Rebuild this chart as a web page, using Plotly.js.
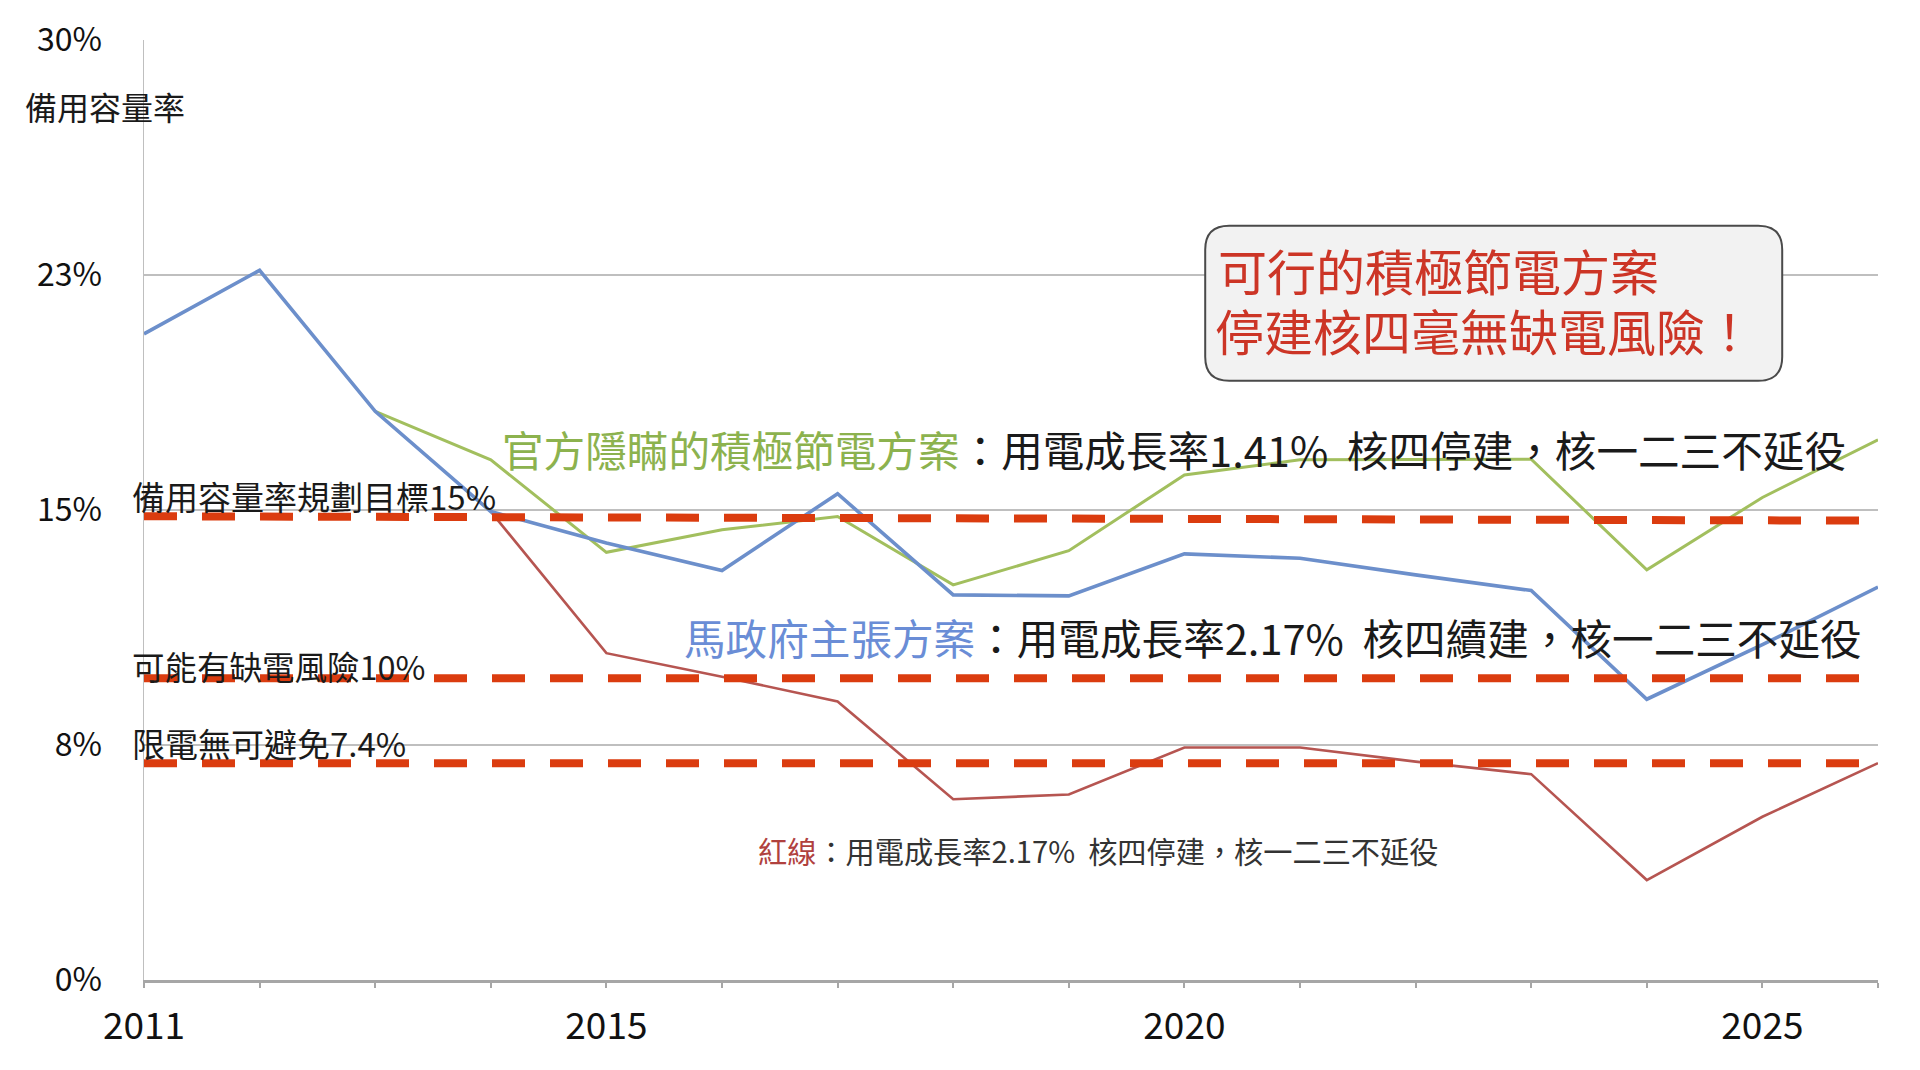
<!DOCTYPE html>
<html>
<head>
<meta charset="utf-8">
<script src="https://cdn.plot.ly/plotly-3.0.1.min.js"></script>
<style>
html, body { margin: 0; padding: 0; background: #ffffff; }
#chart { width: 1920px; height: 1070px; }
</style>
</head>
<body>
<div id="chart"></div>
<script>
// ---- data ----
const years = [2011, 2012, 2013, 2014, 2015, 2016, 2017, 2018, 2019, 2020, 2021, 2022, 2023, 2024, 2025, 2026];
// 馬政府主張方案 (blue)
const maGovPlan = [20.62, 22.65, 18.15, 14.95, 13.95, 13.07, 15.52, 12.29, 12.26, 13.60, 13.46, 12.93, 12.43, 8.96, 10.70, 12.54];
// 官方隱瞞的積極節電方案 (green)
const hiddenSavingPlan = [null, null, 18.15, 16.60, 13.65, 14.37, 14.79, 12.61, 13.70, 16.12, 16.60, 16.62, 16.62, 13.09, 15.40, 17.24];
// 紅線 (red)
const redLinePlan = [null, null, null, 14.95, 10.43, 9.68, 8.89, 5.77, 5.92, 7.42, 7.42, 6.97, 6.57, 3.19, 5.21, 6.92];

// reference (dashed) lines as drawn in the picture
const refLineYears = [2011, 2026];
const targetLine15 = [14.80, 14.66];
const riskLine10 = [9.63, 9.63];
const rationLine74 = [6.92, 6.92];

// axis ticks
const yTickVals = [0, 7.5, 15, 22.5, 30];
const yTickText = ['0%', '8%', '15%', '23%', '30%'];
const xLabelYears = [2011, 2015, 2020, 2025];
const xTickText = years.map(y => xLabelYears.includes(y) ? String(y) : '');

// texts
const yTitleText = '備用容量率';
const label15 = '備用容量率規劃目標15%';
const label10 = '可能有缺電風險10%';
const label74 = '限電無可避免7.4%';
const greenName = '官方隱瞞的積極節電方案';
const greenDesc = '：用電成長率1.41%  核四停建，核一二三不延役';
const blueName = '馬政府主張方案';
const blueDesc = '：用電成長率2.17%  核四續建，核一二三不延役';
const redName = '紅線';
const redDesc = '：用電成長率2.17%  核四停建，核一二三不延役';
const boxLines = ['可行的積極節電方案', '停建核四毫無缺電風險！'];

// ---- styling ----
const FONT = '"Noto Sans CJK TC", "Noto Sans", sans-serif';
const BLUE = '#6C8FCB';
const GREEN = '#A2BF5E';
const RED = '#B65551';
const DASH = '#DB3C0F';

const lineTrace = (y, color, width) => ({
  x: years, y: y, type: 'scatter', mode: 'lines',
  line: { color: color, width: width }, connectgaps: false, hoverinfo: 'skip'
});
const dashTrace = (y) => ({
  x: refLineYears, y: y, type: 'scatter', mode: 'lines',
  line: { color: DASH, width: 8, dash: '33px,25px' }, hoverinfo: 'skip'
});

const traces = [
  lineTrace(redLinePlan, RED, 2.6),
  lineTrace(hiddenSavingPlan, GREEN, 3),
  lineTrace(maGovPlan, BLUE, 3.6),
  dashTrace(targetLine15),
  dashTrace(riskLine10),
  dashTrace(rationLine74)
];

const ann = (text, x, y, size, color, xref) => ({
  text: text, x: x, y: y, xref: xref || 'x', yref: 'y',
  xanchor: 'left', yanchor: 'middle', showarrow: false,
  font: { family: FONT, size: size, color: color || '#1a1a1a' }
});

const layout = {
  width: 1920, height: 1070,
  margin: { l: 144, r: 42, t: 40, b: 90 },
  paper_bgcolor: '#ffffff', plot_bgcolor: '#ffffff',
  showlegend: false,
  font: { family: FONT, color: '#1a1a1a' },
  xaxis: {
    range: [2011, 2026], tickvals: years, ticktext: xTickText,
    ticks: 'outside', ticklen: 5, tickwidth: 2, tickcolor: '#A6A6A6',
    showline: true, linecolor: '#A6A6A6', linewidth: 2.5,
    showgrid: false, zeroline: false,
    tickfont: { family: FONT, size: 37, color: '#111' },
    ticklabelstandoff: 7
  },
  yaxis: {
    range: [0, 30], tickvals: yTickVals, ticktext: yTickText,
    ticks: '', showline: true, linecolor: '#BFBFBF', linewidth: 1.5,
    showgrid: true, gridcolor: '#BFBFBF', gridwidth: 1.5, zeroline: false,
    tickfont: { family: FONT, size: 32, color: '#111' },
    ticklabelstandoff: 34
  },
  shapes: [{
    type: 'path', layer: 'above',
    xref: 'x', yref: 'y', xsizemode: 'pixel', ysizemode: 'pixel',
    xanchor: 2020.18, yanchor: 24.07,
    path: 'M24,0 L553,0 Q577,0 577,-24 L577,-131 Q577,-155 553,-155 L24,-155 Q0,-155 0,-131 L0,-24 Q0,0 24,0 Z',
    fillcolor: '#F2F2F2', line: { color: '#4A4A4A', width: 2 }
  }],
  annotations: [
    ann(yTitleText, -0.0695, 27.9, 32, '#1a1a1a', 'paper'),
    ann(label15, -0.0081, 15.45, 33, '#1a1a1a', 'paper'),
    ann(label10, -0.0081, 10.05, 32.5, '#1a1a1a', 'paper'),
    ann(label74, -0.0081, 7.55, 33, '#1a1a1a', 'paper'),
    ann('<span style="color:#8CB24E">' + greenName + '</span>' + greenDesc, 2014.08, 16.95, 41.6),
    ann('<span style="color:#6A8DD6">' + blueName + '</span>' + blueDesc, 2015.65, 10.95, 41.6),
    ann('<span style="color:#B0413E">' + redName + '</span>' + redDesc, 2016.29, 4.14, 29.2, '#333333'),
    ann(boxLines[0], 2020.27, 22.66, 49, '#CC3526'),
    ann(boxLines[1], 2020.25, 20.76, 49, '#CC3526')
  ]
};

Plotly.newPlot('chart', traces, layout, { staticPlot: true, displayModeBar: false });
</script>
</body>
</html>
